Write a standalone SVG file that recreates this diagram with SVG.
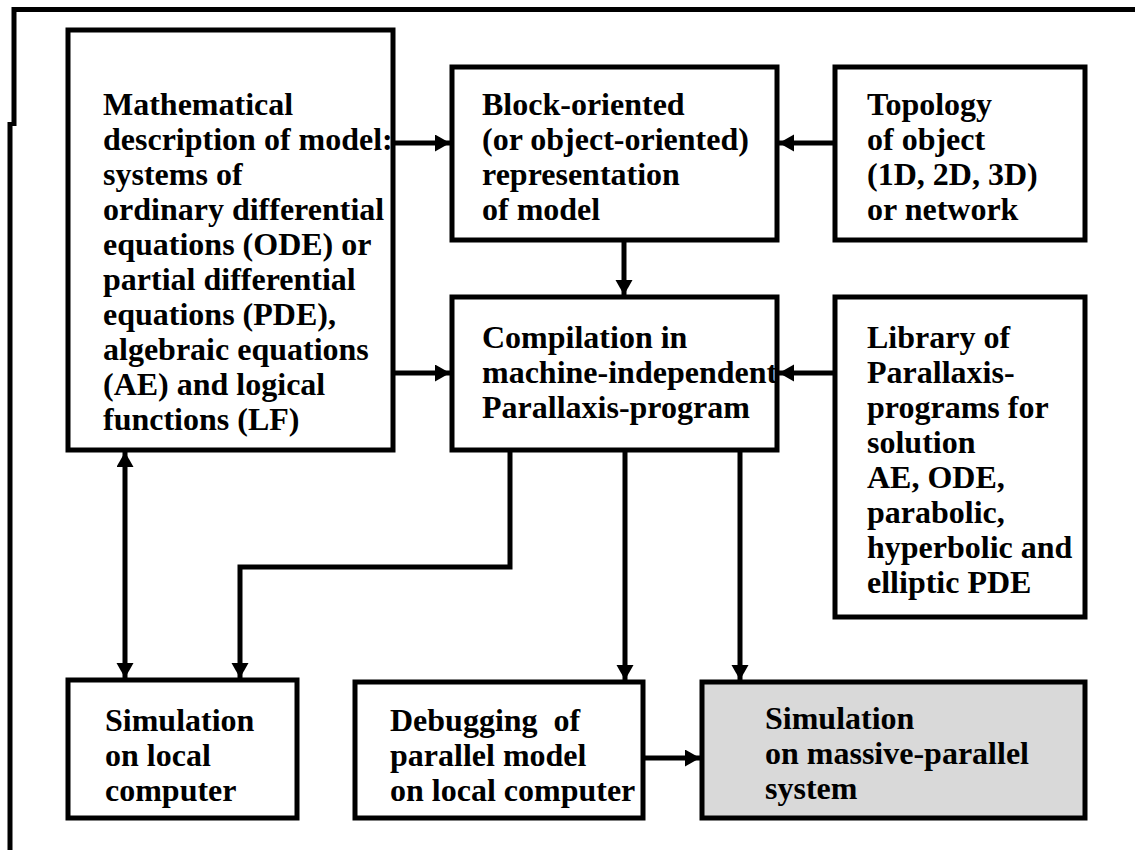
<svg xmlns="http://www.w3.org/2000/svg" width="1135" height="850" viewBox="0 0 1135 850">
<defs>
<style>
.box{fill:#fff;stroke:#000;stroke-width:5}
.gray{fill:#d9d9d9}
text{font-family:'Liberation Serif','DejaVu Serif',serif;font-weight:700;font-size:32px;fill:#000}
.c{fill:none;stroke:#000;stroke-width:5;marker-end:url(#ah)}
.frame{fill:none;stroke:#000;stroke-width:5}
</style>
<marker id="ah" markerUnits="userSpaceOnUse" markerWidth="16" markerHeight="18" refX="15" refY="8.5" orient="auto-start-reverse">
<path d="M0,0 L15,8.5 L0,17 Z" fill="#000"/>
</marker>
</defs>
<rect width="1135" height="850" fill="#fff"/>
<g id="frame">
<path class="frame" d="M14,126 V9.5 H1135"/>
<path class="frame" d="M10,122 V850"/>
</g>
<g id="connectors">
<path class="c" d="M393,143 H450"/>
<path class="c" d="M835,143 H779"/>
<path class="c" d="M624,240 V295"/>
<path class="c" d="M393,373 H450"/>
<path class="c" d="M835,373 H779"/>
<path class="c" d="M125,452 V678" style="marker-start:url(#ah)"/>
<path class="c" d="M510,450 V567 H240 V678"/>
<path class="c" d="M625,450 V680"/>
<path class="c" d="M740,450 V680"/>
<path class="c" d="M643,758 H700"/>
</g>
<g id="n-math">
<rect class="box" x="68" y="30" width="325" height="420"/>
<text x="103" y="115">Mathematical</text>
<text x="103" y="150">description of model:</text>
<text x="103" y="185">systems of</text>
<text x="103" y="220">ordinary differential</text>
<text x="103" y="255">equations (ODE) or</text>
<text x="103" y="290">partial differential</text>
<text x="103" y="325">equations (PDE),</text>
<text x="103" y="360">algebraic equations</text>
<text x="103" y="395">(AE) and logical</text>
<text x="103" y="430">functions (LF)</text>
</g>
<g id="n-block">
<rect class="box" x="452" y="67" width="325" height="173"/>
<text x="482" y="115">Block-oriented</text>
<text x="482" y="150">(or object-oriented)</text>
<text x="482" y="185">representation</text>
<text x="482" y="220">of model</text>
</g>
<g id="n-topology">
<rect class="box" x="835" y="67" width="250" height="173"/>
<text x="867" y="115">Topology</text>
<text x="867" y="150">of object</text>
<text x="867" y="185">(1D, 2D, 3D)</text>
<text x="867" y="220">or network</text>
</g>
<g id="n-compile">
<rect class="box" x="452" y="297" width="325" height="153"/>
<text x="482" y="348">Compilation in</text>
<text x="482" y="383">machine-independent</text>
<text x="482" y="418">Parallaxis-program</text>
</g>
<g id="n-library">
<rect class="box" x="835" y="297" width="250" height="320"/>
<text x="867" y="348">Library of</text>
<text x="867" y="383">Parallaxis-</text>
<text x="867" y="418">programs for</text>
<text x="867" y="453">solution</text>
<text x="867" y="488">AE, ODE,</text>
<text x="867" y="523">parabolic,</text>
<text x="867" y="558">hyperbolic and</text>
<text x="867" y="593">elliptic PDE</text>
</g>
<g id="n-simlocal">
<rect class="box" x="68" y="680" width="229" height="138"/>
<text x="105" y="731">Simulation</text>
<text x="105" y="766">on local</text>
<text x="105" y="801">computer</text>
</g>
<g id="n-debug">
<rect class="box" x="355" y="682" width="288" height="136"/>
<text x="390" y="731" xml:space="preserve">Debugging  of</text>
<text x="390" y="766">parallel model</text>
<text x="390" y="801">on local computer</text>
</g>
<g id="n-simmassive">
<rect class="box gray" x="702" y="682" width="383" height="136"/>
<text x="765" y="729">Simulation</text>
<text x="765" y="764">on massive-parallel</text>
<text x="765" y="799">system</text>
</g>
</svg>
